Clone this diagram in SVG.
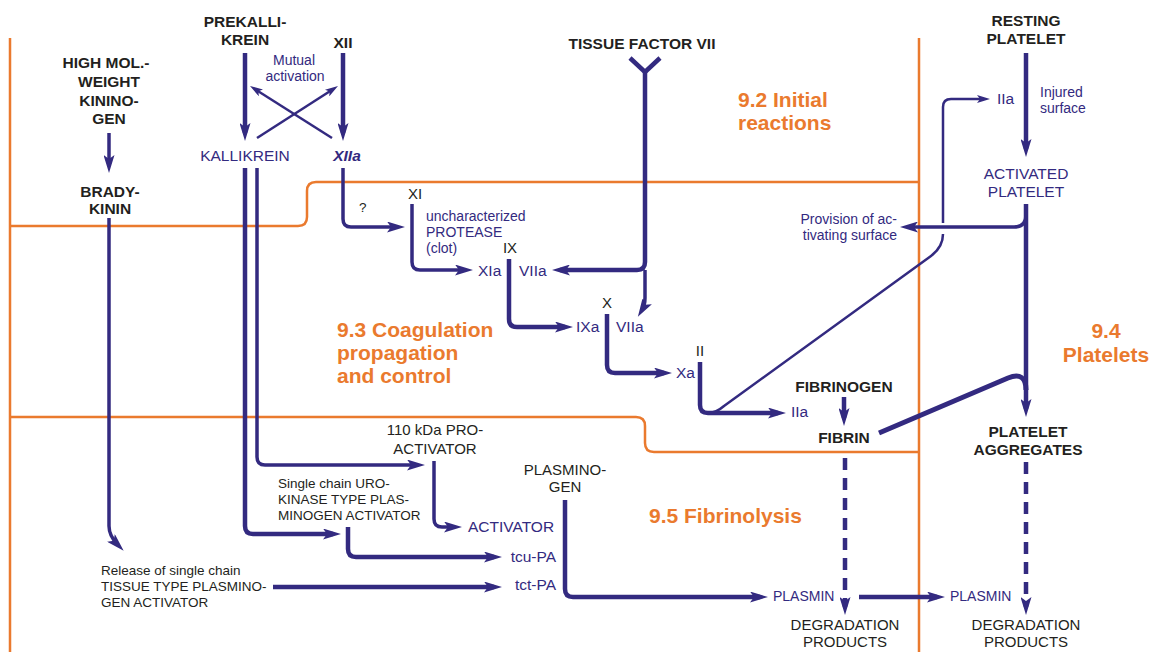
<svg xmlns="http://www.w3.org/2000/svg" width="1163" height="652" viewBox="0 0 1163 652">
  <style>
    .bg { fill: #ffffff; }
    .frame { fill: none; stroke: #EA7A2E; stroke-width: 2.5; }
    .c { fill: none; stroke: #332A80; stroke-linecap: butt; stroke-linejoin: round; }
    .w5 { stroke-width: 5; }
    .w4 { stroke-width: 4.5; }
    .w3 { stroke-width: 3.5; }
    .w2 { stroke-width: 2.5; }
    .dash { stroke-dasharray: 12 8; }
    text { font-family: "Liberation Sans", Arial, sans-serif; }
    .b { font-size: 15.5px; font-weight: bold; fill: #231F20; }
    .r { font-size: 15px; fill: #231F20; }
    .rs { font-size: 13.5px; fill: #231F20; }
    .bl { font-size: 15.5px; fill: #332A80; }
    .bs { font-size: 14px; fill: #332A80; }
    .or { font-size: 21px; font-weight: bold; fill: #EA7A2E; }
    .mid { text-anchor: middle; }
    .end { text-anchor: end; }
  </style>
  <defs>
    <marker id="ah" viewBox="0 0 18 11" refX="10" refY="5.5" markerWidth="18" markerHeight="11" markerUnits="userSpaceOnUse" orient="auto">
      <path d="M0,0 L18,5.5 L0,11 L4,5.5 z" fill="#332A80"/>
    </marker>
    <marker id="ahs" viewBox="0 0 13 8" refX="7" refY="4" markerWidth="13" markerHeight="8" markerUnits="userSpaceOnUse" orient="auto">
      <path d="M0,0 L13,4 L0,8 L3,4 z" fill="#332A80"/>
    </marker>
  </defs>
  <rect class="bg" x="0" y="0" width="1163" height="652"/>

  <!-- section frame -->
  <g id="sections">
    <path class="frame" d="M10,38 V652"/>
    <path class="frame" d="M919,38 V652"/>
    <path class="frame" d="M10,226 H298 Q307,226 307,217 V191 Q307,182 316,182 H919"/>
    <path class="frame" d="M10,417 H636 Q645,417 645,426 V443 Q645,452 654,452 H919"/>
    <text class="or" x="738" y="107">9.2 Initial</text>
    <text class="or" x="738" y="130">reactions</text>
    <text class="or" x="337" y="337">9.3 Coagulation</text>
    <text class="or" x="337" y="360">propagation</text>
    <text class="or" x="337" y="383">and control</text>
    <text class="or mid" x="1106" y="338">9.4</text>
    <text class="or mid" x="1106" y="362">Platelets</text>
    <text class="or" x="649" y="523">9.5 Fibrinolysis</text>
  </g>

  <!-- connectors -->
  <g id="connectors">
    <path class="c w4" d="M245,53 V133" marker-end="url(#ah)"/>
    <path class="c w4" d="M343,53 V133" marker-end="url(#ah)"/>
    <path class="c w2" d="M257,138 L332.95,89.24" marker-end="url(#ahs)"/>
    <path class="c w2" d="M332,138 L255.07,89.2" marker-end="url(#ahs)"/>
    <path class="c w3" d="M109,133 V165" marker-end="url(#ah)"/>
    <path class="c w3" d="M109,218 V526 Q109,536 118,545" marker-end="url(#ah)"/>
    <path class="c w4" d="M245,168 V526 Q245,534 253,534 H333" marker-end="url(#ah)"/>
    <path class="c w3" d="M257,168 V457 Q257,465 265,465 H417" marker-end="url(#ah)"/>
    <path class="c w3" d="M434,461 V519 Q434,527 442,527 H454" marker-end="url(#ah)"/>
    <path class="c w3" d="M343,168 V219 Q343,227 351,227 H397" marker-end="url(#ah)"/>
    <path class="c w3" d="M412,204 V262 Q412,270 420,270 H465" marker-end="url(#ah)"/>
    <path class="c w4" d="M509,259 V319 Q509,327 517,327 H565" marker-end="url(#ah)"/>
    <path class="c w4" d="M607,314 V365 Q607,373 615,373 H664" marker-end="url(#ah)"/>
    <path class="c w4" d="M700,362 V405 Q700,413 708,413 H778" marker-end="url(#ah)"/>
    <path class="c w4" d="M630,58 L645,72 L660,58"/>
    <path class="c w4" d="M645,72 V262 Q645,270 637,270 H560" marker-end="url(#ah)"/>
    <path class="c w3" d="M645,270 V298 Q645,305 642,310" marker-end="url(#ah)"/>
    <path class="c w2" d="M708,413 Q716,413 724,406 L931,256 Q943,247 943,234"/>
    <path class="c w2" d="M943,223 V107 Q943,99 951,99 H984" marker-end="url(#ahs)"/>
    <path class="c w4" d="M1026,53 V149" marker-end="url(#ah)"/>
    <path class="c w4" d="M1026,204 V409" marker-end="url(#ah)"/>
    <path class="c w3" d="M1026,215 Q1026,227 1014,227 H908" marker-end="url(#ah)"/>
    <path class="c w4" d="M844,397 V418" marker-end="url(#ah)"/>
    <path class="c w5" d="M879,433 L1008,378 Q1026,371 1026,390"/>
    <path class="c w4 dash" d="M845,458 V607" marker-end="url(#ah)"/>
    <path class="c w4 dash" d="M1026,462 V607" marker-end="url(#ah)"/>
    <path class="c w4" d="M565,500 V589 Q565,597 573,597 H760" marker-end="url(#ah)"/>
    <path class="c w4" d="M859,597 H937" marker-end="url(#ah)"/>
    <path class="c w4" d="M273,587 H494" marker-end="url(#ah)"/>
    <path class="c w4" d="M348,527 V549 Q348,557 356,557 H494" marker-end="url(#ah)"/>
  </g>

  <!-- contact activation -->
  <g id="prekallikrein"><text class="b mid" x="245" y="27">PREKALLI-</text><text class="b mid" x="245" y="45">KREIN</text></g>
  <g id="xii"><text class="b mid" x="343" y="48">XII</text></g>
  <g id="mutual"><text class="bs mid" x="294" y="65">Mutual</text><text class="bs mid" x="295" y="81">activation</text></g>
  <g id="kallikrein"><text class="bl mid" x="245" y="161">KALLIKREIN</text></g>
  <g id="xiia"><text class="bl mid" x="347" y="161" font-weight="bold" font-style="italic">XIIa</text></g>
  <g id="hmwk">
    <text class="b mid" x="106" y="68">HIGH MOL.-</text>
    <text class="b mid" x="109" y="87">WEIGHT</text>
    <text class="b mid" x="109" y="106">KININO-</text>
    <text class="b mid" x="109" y="124">GEN</text>
  </g>
  <g id="bradykinin"><text class="b mid" x="110" y="197">BRADY-</text><text class="b mid" x="110" y="214">KININ</text></g>

  <!-- coagulation cascade -->
  <g id="tissue-factor"><text class="b mid" x="642" y="49">TISSUE FACTOR VII</text></g>
  <g id="question"><text class="rs" x="359" y="212" font-size="12px">?</text></g>
  <g id="xi"><text class="r mid" x="415" y="199">XI</text></g>
  <g id="protease">
    <text class="bs" x="426" y="221">uncharacterized</text>
    <text class="bs" x="426" y="237">PROTEASE</text>
    <text class="bs" x="426" y="253">(clot)</text>
  </g>
  <g id="ix"><text class="r mid" x="510" y="253">IX</text></g>
  <g id="xia-viia"><text class="bl" x="478" y="276">XIa</text><text class="bl" x="519" y="276">VIIa</text></g>
  <g id="x"><text class="r mid" x="607" y="308">X</text></g>
  <g id="ixa-viia"><text class="bl" x="576" y="332">IXa</text><text class="bl" x="616" y="332">VIIa</text></g>
  <g id="ii"><text class="r mid" x="700" y="356">II</text></g>
  <g id="xa"><text class="bl" x="676" y="378">Xa</text></g>
  <g id="iia"><text class="bl" x="791" y="417">IIa</text></g>
  <g id="fibrinogen"><text class="b mid" x="844" y="392">FIBRINOGEN</text></g>
  <g id="fibrin"><text class="b mid" x="844" y="443">FIBRIN</text></g>

  <!-- platelets -->
  <g id="resting-platelet"><text class="b mid" x="1026" y="26">RESTING</text><text class="b mid" x="1026" y="44">PLATELET</text></g>
  <g id="iia-top"><text class="bl" x="997" y="104" font-size="14px">IIa</text></g>
  <g id="injured"><text class="bs" x="1040" y="97" font-size="13.5px">Injured</text><text class="bs" x="1040" y="113" font-size="13.5px">surface</text></g>
  <g id="activated-platelet"><text class="bl mid" x="1026" y="179">ACTIVATED</text><text class="bl mid" x="1026" y="197">PLATELET</text></g>
  <g id="provision"><text class="bs end" x="897" y="224">Provision of ac-</text><text class="bs end" x="897" y="240">tivating surface</text></g>
  <g id="platelet-aggregates"><text class="b mid" x="1028" y="437">PLATELET</text><text class="b mid" x="1028" y="455">AGGREGATES</text></g>

  <!-- fibrinolysis -->
  <g id="pro-activator"><text class="r mid" x="435" y="435">110 kDa PRO-</text><text class="r mid" x="435" y="454">ACTIVATOR</text></g>
  <g id="scu-pa">
    <text class="rs" x="278" y="488">Single chain URO-</text>
    <text class="rs" x="278" y="504">KINASE TYPE PLAS-</text>
    <text class="rs" x="278" y="520">MINOGEN ACTIVATOR</text>
  </g>
  <g id="activator"><text class="bl" x="468" y="532">ACTIVATOR</text></g>
  <g id="tcu-pa"><text class="bl end" x="556" y="562">tcu-PA</text></g>
  <g id="tct-pa"><text class="bl end" x="556" y="590">tct-PA</text></g>
  <g id="release">
    <text class="rs" x="101" y="575">Release of single chain</text>
    <text class="rs" x="101" y="591">TISSUE TYPE PLASMINO-</text>
    <text class="rs" x="101" y="607">GEN ACTIVATOR</text>
  </g>
  <g id="plasminogen"><text class="r mid" x="565" y="475" font-size="15.5px">PLASMINO-</text><text class="r mid" x="565" y="492" font-size="15.5px">GEN</text></g>
  <g id="plasmin-1"><text class="bs" x="773" y="601" font-size="13px">PLASMIN</text></g>
  <g id="plasmin-2"><text class="bs" x="950" y="601" font-size="13px">PLASMIN</text></g>
  <g id="degradation-1"><text class="r mid" x="845" y="630" font-size="15.5px">DEGRADATION</text><text class="r mid" x="845" y="647" font-size="15.5px">PRODUCTS</text></g>
  <g id="degradation-2"><text class="r mid" x="1026" y="630" font-size="15.5px">DEGRADATION</text><text class="r mid" x="1026" y="647" font-size="15.5px">PRODUCTS</text></g>
</svg>
